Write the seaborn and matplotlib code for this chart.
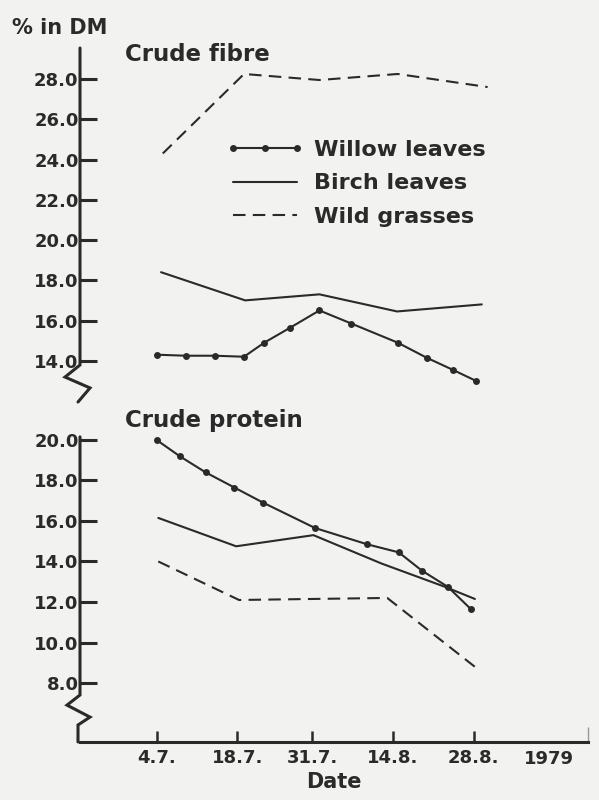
import numpy as np
import pandas as pd
import seaborn as sns
import matplotlib.pyplot as plt
from matplotlib.transforms import blended_transform_factory

# days after 4 July 1979
tick_days = [0, 14, 27, 41, 55]
tick_labels = ["4.7.", "18.7.", "31.7.", "14.8.", "28.8."]

# Crude fibre (% in DM)
fibre_willow_days = [0, 5, 10, 15, 18.5, 23, 28, 33.5, 41.5, 46.5, 51, 55]
fibre_willow = [14.3, 14.25, 14.25, 14.2, 14.9, 15.65, 16.5, 15.85, 14.9, 14.15, 13.55, 13.0]
fibre_birch_days = [0.7, 15.2, 28, 41.4, 56]
fibre_birch = [18.4, 17.0, 17.3, 16.45, 16.8]
fibre_grass_days = [1, 15, 28, 41.5, 57]
fibre_grass = [24.3, 28.25, 27.95, 28.25, 27.6]

# Crude protein (% in DM)
protein_willow_days = [0, 4, 8.5, 13.5, 18.5, 27.5, 36.5, 42, 46, 50.5, 54.5]
protein_willow = [20.0, 19.2, 18.4, 17.65, 16.9, 15.65, 14.85, 14.45, 13.55, 12.75, 11.65]
protein_birch_days = [0.3, 13.8, 27.2, 39, 50, 55.2]
protein_birch = [16.15, 14.75, 15.3, 13.9, 12.75, 12.15]
protein_grass_days = [0.3, 14.3, 27, 40, 55.2]
protein_grass = [14.0, 12.1, 12.15, 12.2, 8.8]

series_names = ["Willow leaves", "Birch leaves", "Wild grasses"]

ink = "#2a2a2a"
paper = "#f2f2f0"

sns.set_theme(style="white")
plt.rcParams["font.family"] = ["DejaVu Sans"]
plt.rcParams["font.weight"] = "bold"

W, H = 599, 800
fig = plt.figure(figsize=(W / 100, H / 100), dpi=100, facecolor=paper)

x_left, x_right = 80, 588
px_per_day = 5.8
day0_px = 157
xlim = ((x_left - day0_px) / px_per_day, (x_right - day0_px) / px_per_day)


def make_axes(top_px, bottom_px):
    return fig.add_axes([x_left / W, 1 - bottom_px / H,
                         (x_right - x_left) / W, (bottom_px - top_px) / H])


ax1 = make_axes(45, 400)
ax2 = make_axes(430, 742)

for ax in (ax1, ax2):
    ax.set_facecolor("none")
    ax.set_xlim(*xlim)
    for side in ("top", "right", "left", "bottom"):
        ax.spines[side].set_visible(False)
    ax.tick_params(axis="y", direction="in", length=12, width=2.2, color=ink,
                   labelcolor=ink, labelsize=13, pad=1, left=True)
    ax.set_xlabel("")
    ax.set_ylabel("")

# upper panel
ax1.set_ylim(12.05, 29.69)
ax1.set_yticks(np.arange(14, 29, 2))
ax1.set_yticklabels([f"{v:.1f}" for v in np.arange(14, 29, 2)])
ax1.set_xticks([])

sns.lineplot(x=fibre_willow_days, y=fibre_willow, ax=ax1, color=ink, lw=1.5,
             marker="o", markersize=5, markeredgewidth=0, label=series_names[0])
sns.lineplot(x=fibre_birch_days, y=fibre_birch, ax=ax1, color=ink, lw=1.5,
             label=series_names[1])
sns.lineplot(x=fibre_grass_days, y=fibre_grass, ax=ax1, color=ink, lw=1.5,
             linestyle=(0, (6, 3.5)), label=series_names[2])

# lower panel
ax2.set_ylim(5.09, 20.49)
ax2.set_yticks(np.arange(8, 21, 2))
ax2.set_yticklabels([f"{v:.1f}" for v in np.arange(8, 21, 2)])

sns.lineplot(x=protein_willow_days, y=protein_willow, ax=ax2, color=ink, lw=1.5,
             marker="o", markersize=5, markeredgewidth=0, legend=False)
sns.lineplot(x=protein_birch_days, y=protein_birch, ax=ax2, color=ink, lw=1.5,
             legend=False)
sns.lineplot(x=protein_grass_days, y=protein_grass, ax=ax2, color=ink, lw=1.5,
             linestyle=(0, (6, 3.5)), legend=False)

ax2.spines["bottom"].set_visible(True)
ax2.spines["bottom"].set_color(ink)
ax2.spines["bottom"].set_linewidth(2.2)
ax2.set_xticks(tick_days)
ax2.set_xticklabels(tick_labels)
ax2.tick_params(axis="x", direction="in", length=8, width=1.8, color=ink,
                labelcolor=ink, labelsize=13, pad=5, bottom=True)
ax2.set_xticks([xlim[1] + 0.5], minor=True)
ax2.tick_params(axis="x", which="minor", direction="in", length=11, width=1,
                color="#999999", bottom=True)
ax2.set_xlabel("Date", fontsize=15, fontweight="bold", color=ink, labelpad=4)

# y axis lines with breaks (x in axes fraction, y in data units)
def axis_with_break(ax, ys, xs):
    tr = blended_transform_factory(ax.transAxes, ax.transData)
    ax.plot(xs, ys, color=ink, lw=2.2, transform=tr, clip_on=False,
            solid_joinstyle="miter")

w = x_right - x_left
axis_with_break(ax1, [29.54, 13.79, 13.19, 12.65, 11.95],
                [0, 0, -15 / w, 10 / w, -2 / w])
axis_with_break(ax2, [20.15, 7.41, 6.91, 6.32, 5.93, 5.09],
                [0, 0, -13 / w, 10 / w, -2 / w, -2 / w])

ax1.legend(loc="upper left", bbox_to_anchor=(226 / W, 1 - 140 / H),
           bbox_transform=fig.transFigure, frameon=False,
           handlelength=3.5, handletextpad=0.45, labelspacing=0.6,
           borderpad=0, borderaxespad=0, numpoints=3, labelcolor=ink,
           prop={"weight": "bold", "size": 16})

fig.text(12 / W, 1 - 34 / H, "% in DM", fontsize=15, fontweight="bold",
         color=ink, ha="left", va="baseline")
fig.text(125 / W, 1 - 61 / H, "Crude fibre", fontsize=16.5, fontweight="bold",
         color=ink, ha="left", va="baseline")
fig.text(125 / W, 1 - 427 / H, "Crude protein", fontsize=16.5, fontweight="bold",
         color=ink, ha="left", va="baseline")
fig.text(549 / W, 1 - 750 / H, "1979", fontsize=13, fontweight="bold",
         color=ink, ha="center", va="top")

fig.savefig("out.png", dpi=100, facecolor=paper)
